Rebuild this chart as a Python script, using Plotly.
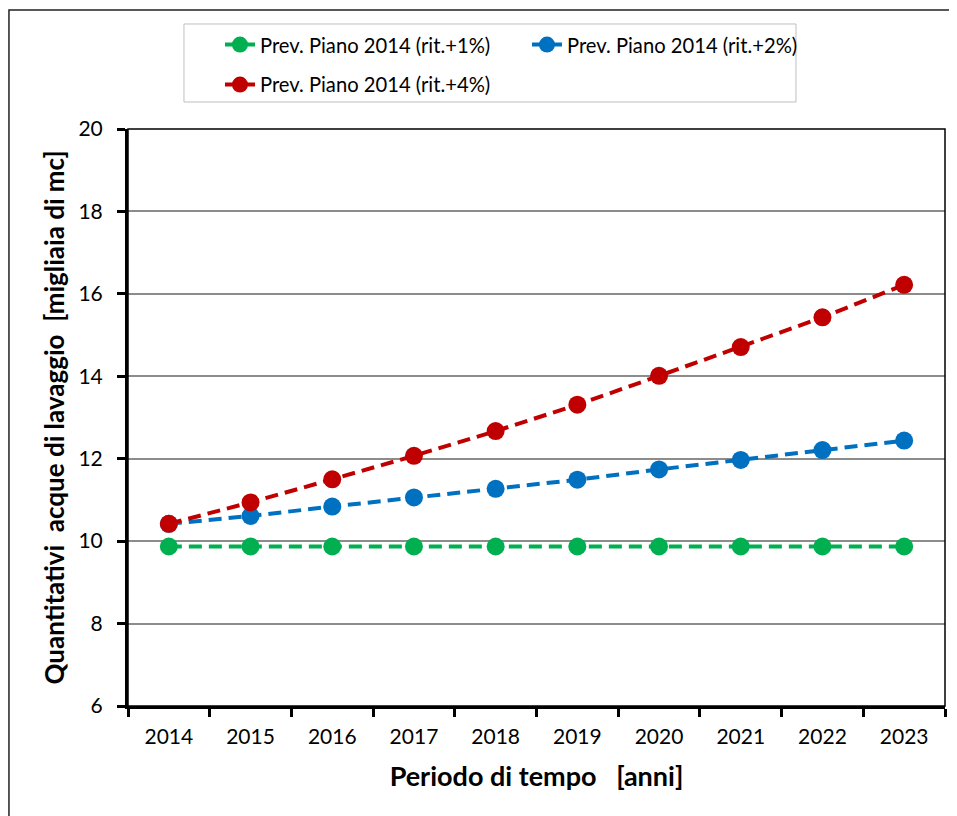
import plotly.graph_objects as go

# values
years = ['2014', '2015', '2016', '2017', '2018', '2019', '2020', '2021', '2022', '2023']
rit_1 = [9.87, 9.87, 9.87, 9.87, 9.87, 9.87, 9.87, 9.87, 9.87, 9.87]
rit_2 = [10.42, 10.61, 10.84, 11.06, 11.27, 11.49, 11.74, 11.97, 12.21, 12.44]
rit_4 = [10.42, 10.94, 11.50, 12.07, 12.67, 13.31, 14.01, 14.71, 15.43, 16.22]
names = ['Prev. Piano 2014 (rit.+1%)', 'Prev. Piano 2014 (rit.+2%)', 'Prev. Piano 2014 (rit.+4%)']
colors = ['#00B050', '#0070C0', '#C00000']
y_ticks = [6, 8, 10, 12, 14, 16, 18, 20]

FONT = 'Lato'

fig = go.Figure()
for vals, name, col, leg in zip([rit_1, rit_2, rit_4], names, colors, ['legend', 'legend', 'legend2']):
    fig.add_trace(go.Scatter(
        x=years, y=vals, name=name, mode='lines+markers',
        line=dict(color=col, width=4, dash='13px,7px'),
        marker=dict(color=col, size=18),
        legend=leg,
    ))

# page body has an 8px margin, so the figure is 8px smaller and shifted
fig.update_layout(
    width=949, height=808,
    margin=dict(l=120, r=12, t=121, b=110, autoexpand=False),
    plot_bgcolor='white', paper_bgcolor='white',
    font=dict(family=FONT, size=20, color='black'),
    legend=dict(orientation='h', x=0.1126, y=1.1456, xanchor='left', yanchor='middle',
                entrywidth=262, font=dict(size=20.2, family=FONT), bgcolor='rgba(0,0,0,0)'),
    legend2=dict(orientation='h', x=0.1126, y=1.0763, xanchor='left', yanchor='middle',
                 font=dict(size=20.2, family=FONT), bgcolor='rgba(0,0,0,0)'),
    shapes=[
        # outer chart frame (right/bottom edges fall outside the picture)
        dict(type='rect', xref='paper', yref='paper', x0=-0.1457, x1=1.2, y0=-0.4, y1=1.2062,
             line=dict(color='#222222', width=1.5), layer='below'),
        # legend box
        dict(type='rect', xref='paper', yref='paper', x0=0.0685, x1=0.8176, y0=1.0468, y1=1.182,
             line=dict(color='#BFBFBF', width=1)),
        # thin top / right border of plot area
        dict(type='rect', xref='paper', yref='paper', x0=0, x1=1, y0=0, y1=1,
             line=dict(color='black', width=1.5)),
    ],
)

fig.update_xaxes(
    type='category', tickson='boundaries', ticks='outside', ticklen=8, tickwidth=3,
    tickcolor='black', showline=True, linewidth=3, linecolor='black', showgrid=False,
    tickfont=dict(size=21), range=[-0.5, 9.5], ticklabelstandoff=10,
    title=dict(text='<b>Periodo di tempo   [anni]</b>', font=dict(size=27), standoff=20),
)
fig.update_yaxes(
    range=[6, 20], tickvals=y_ticks, ticks='outside', ticklen=8, tickwidth=3,
    tickcolor='black', showline=True, linewidth=3, linecolor='black',
    showgrid=True, gridcolor='#8C8C8C', gridwidth=1.5, zeroline=False,
    tickfont=dict(size=21), ticklabelstandoff=10,
    title=dict(text='<b>Quantitativi  acque di lavaggio  [migliaia di mc]</b>', font=dict(size=26), standoff=7),
)

fig.write_html('out.html')
